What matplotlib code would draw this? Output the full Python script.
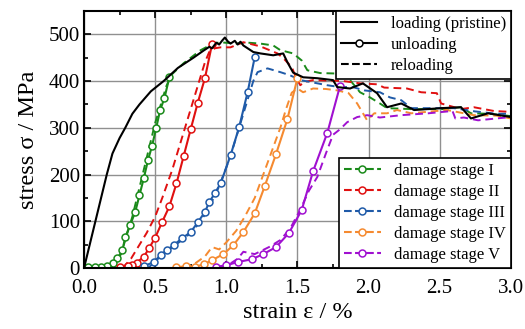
import matplotlib
matplotlib.use('Agg')
import matplotlib.pyplot as plt
from matplotlib.lines import Line2D
from matplotlib.ticker import MultipleLocator

plt.rcParams['font.family'] = ['Liberation Serif', 'DejaVu Serif']

# pristine loading curve
load_eps = [0, 0.04, 0.08, 0.12, 0.16, 0.20, 0.25, 0.29, 0.34, 0.39, 0.47, 0.56, 0.66, 0.77,
            0.84, 0.88, 0.90, 0.93, 0.95, 0.97, 0.99, 1.01, 1.03, 1.06, 1.08, 1.10, 1.12, 1.15,
            1.19, 1.24, 1.33, 1.40, 1.43, 1.47, 1.54, 1.64, 1.75, 1.78, 1.87, 1.96, 2.06, 2.13,
            2.23, 2.32, 2.51, 2.65, 2.72, 2.84, 3.0]
load_sig = [0, 50, 100, 150, 200, 245, 278, 300, 330, 350, 378, 400, 428, 450,
            465, 473, 470, 482, 478, 486, 493, 485, 480, 486, 478, 484, 476, 470,
            462, 459, 455, 459, 440, 418, 408, 406, 402, 387, 384, 395, 374, 344,
            352, 338, 342, 344, 320, 331, 323]

stages = ['damage stage I', 'damage stage II', 'damage stage III', 'damage stage IV', 'damage stage V']
colors = ['#1a8a1a', '#e01010', '#1f5aa8', '#f58a30', '#a010d0']

# unloading branches (solid with circles)
unl_eps = [
    [0.60, 0.565, 0.535, 0.507, 0.478, 0.45, 0.42, 0.39, 0.36, 0.324, 0.29, 0.27, 0.235, 0.205, 0.16, 0.12, 0.08, 0.03],
    [0.90, 0.85, 0.80, 0.75, 0.70, 0.65, 0.60, 0.55, 0.50, 0.46, 0.42, 0.37, 0.34, 0.31, 0.25],
    [1.20, 1.15, 1.09, 1.03, 0.96, 0.92, 0.88, 0.85, 0.80, 0.75, 0.69, 0.63, 0.58, 0.54, 0.49, 0.42],
    [1.50, 1.43, 1.35, 1.27, 1.20, 1.12, 1.05, 0.98, 0.90, 0.84, 0.78, 0.72, 0.65],
    [1.80, 1.71, 1.61, 1.53, 1.44, 1.35, 1.26, 1.18, 1.08, 1.00, 0.93],
]
unl_sig = [
    [408, 363, 338, 299, 261, 231, 192, 156, 120, 92, 66, 38, 21, 11, 4, 2, 2, 2],
    [479, 406, 354, 297, 239, 181, 132, 99, 65, 44, 24, 12, 6, 4, 2],
    [451, 376, 301, 241, 181, 160, 141, 120, 98, 77, 64, 49, 38, 28, 13, 4],
    [406, 319, 244, 175, 117, 77, 49, 30, 17, 8, 3, 4, 2],
    [390, 289, 207, 124, 75, 45, 30, 19, 13, 6, 3],
]

# reloading branches (dashed)
rel_eps = [
    [0.20, 0.26, 0.30, 0.34, 0.38, 0.42, 0.46, 0.50, 0.55, 0.58, 0.62, 0.70, 0.82, 0.87, 0.95,
     1.07, 1.15, 1.24, 1.33, 1.38, 1.47, 1.53, 1.57, 1.66, 1.78, 1.87, 1.94, 2.01, 2.08, 2.13,
     2.30, 2.53, 2.65, 2.72, 2.85, 3.0],
    [0.27, 0.33, 0.38, 0.44, 0.50, 0.55, 0.62, 0.68, 0.74, 0.80, 0.85, 0.88, 0.92, 0.96, 1.03,
     1.12, 1.24, 1.36, 1.40, 1.46, 1.49, 1.52, 1.55, 1.61, 1.82, 1.94, 2.06, 2.11, 2.27, 2.37,
     2.48, 2.51, 2.65, 2.74, 2.88, 3.0],
    [0.45, 0.52, 0.60, 0.68, 0.75, 0.82, 0.88, 0.95, 1.00, 1.05, 1.10, 1.15, 1.19, 1.22, 1.29,
     1.38, 1.45, 1.52, 1.59, 1.71, 1.80, 1.89, 1.97, 2.08, 2.15, 2.23, 2.30, 2.51, 2.60, 2.75,
     2.90, 3.0],
    [0.70, 0.78, 0.85, 0.90, 0.95, 1.00, 1.07, 1.13, 1.20, 1.26, 1.32, 1.38, 1.42, 1.46, 1.50,
     1.54, 1.61, 1.70, 1.78, 1.86, 1.92, 1.99, 2.04, 2.13, 2.20, 2.30, 2.55, 2.62, 2.74, 2.90, 3.0],
    [0.95, 1.02, 1.08, 1.12, 1.20, 1.30, 1.38, 1.45, 1.52, 1.58, 1.64, 1.70, 1.75, 1.80, 1.85,
     1.92, 1.99, 2.08, 2.23, 2.42, 2.59, 2.61, 2.67, 2.77, 2.90, 3.0],
]
rel_sig = [
    [0, 30, 70, 110, 160, 210, 260, 310, 360, 390, 415, 438, 466, 474, 483,
     480, 482, 480, 476, 466, 459, 444, 423, 417, 416, 402, 376, 365, 352, 342,
     340, 340, 344, 331, 330, 325],
    [0, 20, 45, 75, 110, 150, 210, 270, 330, 390, 440, 462, 470, 472, 472,
     483, 474, 459, 449, 430, 408, 391, 398, 402, 400, 395, 393, 386, 384, 376,
     374, 352, 340, 344, 336, 334],
    [0, 20, 40, 58, 75, 100, 130, 175, 215, 260, 310, 360, 400, 419, 427,
     419, 412, 402, 398, 391, 387, 387, 380, 376, 365, 359, 342, 342, 342, 335,
     330, 330],
    [0, 10, 25, 45, 40, 55, 80, 110, 150, 200, 250, 300, 340, 375, 384,
     376, 384, 383, 380, 374, 352, 316, 331, 331, 338, 331, 338, 334, 327, 326, 320],
    [0, 8, 20, 35, 30, 45, 60, 85, 125, 165, 195, 245, 285, 297, 312,
     323, 327, 322, 327, 331, 336, 320, 322, 316, 320, 323],
]

fig, ax = plt.subplots(figsize=(5.25, 3.29), dpi=100)
fig.subplots_adjust(left=0.16, right=0.973, top=0.967, bottom=0.185)

for i in range(5):
    ax.plot(rel_eps[i], rel_sig[i], '--', color=colors[i], lw=1.4, dashes=(4, 2.5))
    ax.plot(unl_eps[i], unl_sig[i], '-', color=colors[i], lw=1.5, marker='o', ms=5,
            mfc='white', mec=colors[i], mew=1.1)
ax.plot(load_eps, load_sig, '-', color='black', lw=1.5)

ax.set_xlim(0, 3.0)
ax.set_ylim(0, 550)
ax.set_xticks([0, 0.5, 1.0, 1.5, 2.0, 2.5, 3.0])
ax.set_xticklabels(['0.0', '0.5', '1.0', '1.5', '2.0', '2.5', '3.0'])
ax.set_yticks([0, 100, 200, 300, 400, 500])
ax.xaxis.set_minor_locator(MultipleLocator(0.25))
ax.yaxis.set_minor_locator(MultipleLocator(50))
ax.tick_params(which='both', direction='in', top=True, right=True, labelsize=15, width=1.2)
ax.tick_params(which='major', length=5)
ax.tick_params(which='minor', length=3)
ax.tick_params(axis='x', pad=7.5)
ax.tick_params(axis='y', pad=3)
ax.grid(True, which='major', color='#909090', lw=1.0)
ax.set_axisbelow(True)
for s in ax.spines.values():
    s.set_linewidth(1.5)

ax.set_xlabel('strain ε / %', fontsize=17.5, labelpad=3)
ax.set_ylabel('stress σ / MPa', fontsize=17.5, labelpad=7)

h1 = [Line2D([], [], color='black', lw=1.5),
      Line2D([], [], color='black', lw=1.5, marker='o', ms=5, mfc='white', mew=1.1),
      Line2D([], [], color='black', lw=1.5, ls='--')]
leg1 = ax.legend(h1, ['loading (pristine)', 'unloading', 'reloading'], loc='upper right',
                 fontsize=12, frameon=True, fancybox=False, edgecolor='black',
                 framealpha=1, borderaxespad=0, handlelength=2.2, labelspacing=0.3,
                 borderpad=0.3, handletextpad=0.8)
leg1.get_frame().set_linewidth(1.2)
ax.add_artist(leg1)

h2 = [Line2D([], [], color=c, lw=1.5, ls='--', marker='o', ms=5, mfc='white', mew=1.1)
      for c in colors]
leg2 = ax.legend(h2, stages, loc='lower right', fontsize=12, frameon=True, fancybox=False,
                 edgecolor='black', framealpha=1, borderaxespad=0, handlelength=2.2,
                 labelspacing=0.3, borderpad=0.3, handletextpad=0.8)
leg2.get_frame().set_linewidth(1.2)

fig.savefig('out.png', dpi=100)
